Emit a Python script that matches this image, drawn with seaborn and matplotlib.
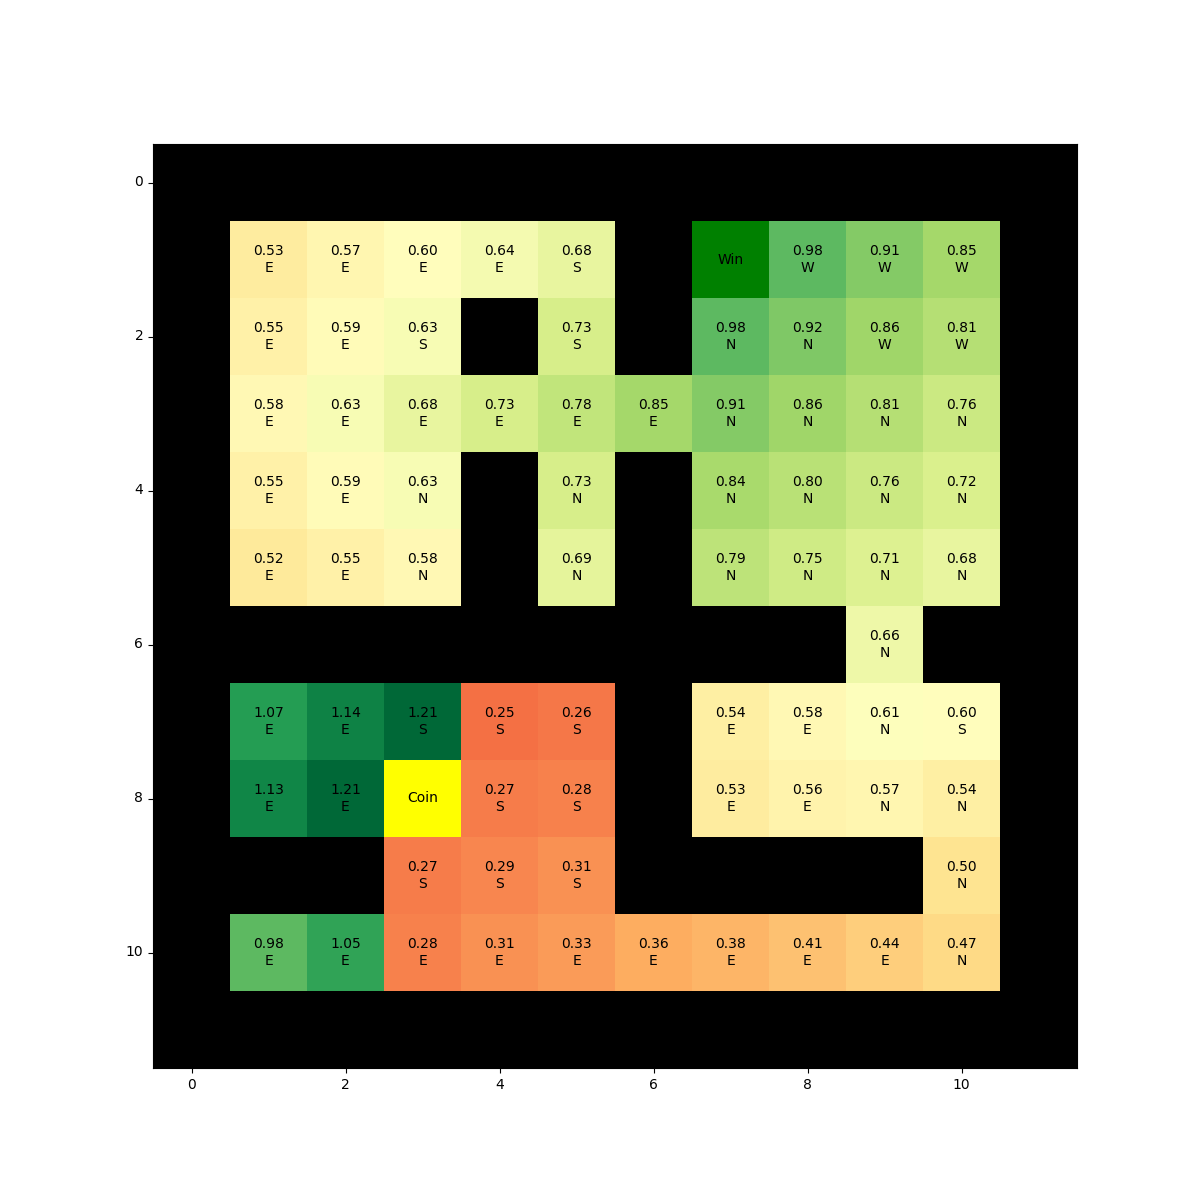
import numpy as np
import matplotlib
matplotlib.use("Agg")
import matplotlib.pyplot as plt
import seaborn as sns
from matplotlib.colors import ListedColormap

nan = np.nan

# state values (nan = wall)
values = [
    [nan] * 12,
    [nan, 0.53, 0.57, 0.60, 0.64, 0.68, nan, nan, 0.98, 0.91, 0.85, nan],
    [nan, 0.55, 0.59, 0.63, nan, 0.73, nan, 0.98, 0.92, 0.86, 0.81, nan],
    [nan, 0.58, 0.63, 0.68, 0.73, 0.78, 0.85, 0.91, 0.86, 0.81, 0.76, nan],
    [nan, 0.55, 0.59, 0.63, nan, 0.73, nan, 0.84, 0.80, 0.76, 0.72, nan],
    [nan, 0.52, 0.55, 0.58, nan, 0.69, nan, 0.79, 0.75, 0.71, 0.68, nan],
    [nan, nan, nan, nan, nan, nan, nan, nan, nan, 0.66, nan, nan],
    [nan, 1.07, 1.14, 1.21, 0.25, 0.26, nan, 0.54, 0.58, 0.61, 0.60, nan],
    [nan, 1.13, 1.21, nan, 0.27, 0.28, nan, 0.53, 0.56, 0.57, 0.54, nan],
    [nan, nan, nan, 0.27, 0.29, 0.31, nan, nan, nan, nan, 0.50, nan],
    [nan, 0.98, 1.05, 0.28, 0.31, 0.33, 0.36, 0.38, 0.41, 0.44, 0.47, nan],
    [nan] * 12,
]

# greedy policy per cell
policy = [
    "            ",
    " EEEES  WWW ",
    " EES S NNWW ",
    " EEEEEENNNN ",
    " EEN N NNNN ",
    " EEN N NNNN ",
    "         N  ",
    " EESSS EENS ",
    " EE SS EENN ",
    "   SSS    N ",
    " EEEEEEEEEN ",
    "            ",
]

win_cell = (1, 7)
coin_cell = (8, 3)

vals = np.array(values, dtype=float)
labels = np.empty(vals.shape, dtype=object)
for r in range(12):
    for c in range(12):
        if np.isnan(vals[r, c]):
            labels[r, c] = ""
        else:
            labels[r, c] = f"{vals[r, c]:.2f}\n{policy[r][c]}"

special = np.full(vals.shape, nan)
special[win_cell] = 0
special[coin_cell] = 1
special_labels = np.full(vals.shape, "", dtype=object)
special_labels[win_cell] = "Win"
special_labels[coin_cell] = "Coin"

fig, ax = plt.subplots(figsize=(12, 12), dpi=100)
ax.set_facecolor("black")

sns.heatmap(vals, mask=np.isnan(vals), cmap="RdYlGn", vmin=0, vmax=np.nanmax(vals),
            annot=labels, fmt="", annot_kws={"color": "black", "fontsize": 10},
            cbar=False, square=True, ax=ax)
sns.heatmap(special, mask=np.isnan(special), cmap=ListedColormap(["#008000", "#ffff00"]),
            vmin=0, vmax=1, annot=special_labels, fmt="",
            annot_kws={"color": "black", "fontsize": 10},
            cbar=False, square=True, ax=ax)

ticks = np.arange(0, 12, 2)
ax.set_xticks(ticks + 0.5)
ax.set_xticklabels(ticks, rotation=0)
ax.set_yticks(ticks + 0.5)
ax.set_yticklabels(ticks, rotation=0)
ax.tick_params(length=3.5, labelsize=10)
ax.set_xlim(0, 12)
ax.set_ylim(12, 0)
for s in ax.spines.values():
    s.set_visible(True)
    s.set_color("black")

plt.savefig("out.png", dpi=100)
